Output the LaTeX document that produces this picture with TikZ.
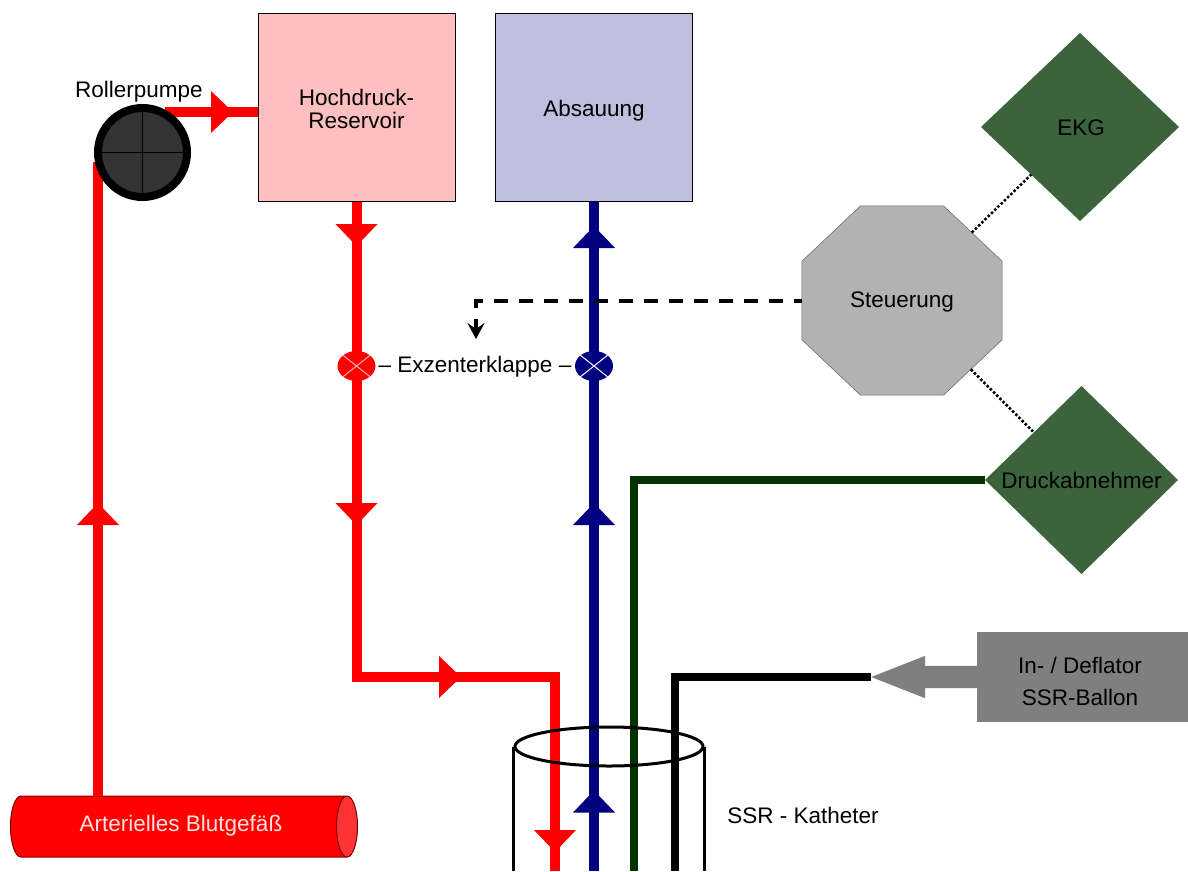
\documentclass[tikz,border=0pt]{standalone}
\usepackage{fontspec}
\setmainfont{Liberation Sans}
\usetikzlibrary{positioning,arrows.meta,calc,shapes.geometric,shapes.arrows}
\definecolor{resfill}{HTML}{FFBFBF}
\definecolor{absfill}{HTML}{BFBFDF}
\definecolor{dkblue}{HTML}{000080}
\definecolor{dkgreen}{HTML}{003300}
\definecolor{leaf}{HTML}{3C643C}
\definecolor{octfill}{HTML}{B2B2B2}
\definecolor{defl}{HTML}{7F7F7F}
\begin{document}
\begin{tikzpicture}[x=1pt,y=-1pt,
  lab/.style={font=\fontsize{22.5}{23}\selectfont,align=center,inner sep=0pt},
  tank/.style={draw=black,line width=1pt,minimum width=197pt,minimum height=188pt},
  pipe/.style={line width=10pt},
  sensor/.style={diamond,aspect=1,fill=leaf,outer sep=0pt,inner sep=0pt},
  klappe/.style={ellipse,inner sep=0pt,minimum width=38pt,minimum height=30pt}]
\useasboundingbox (0,0) rectangle (1188,871);
\fill[white] (0,0) rectangle (1188,871);
% end points at the lower edge
\coordinate (redbend) at (555,677);
\coordinate (redend) at (555,871);
\coordinate (blueend) at (594,871);
\coordinate (greenend) at (634,871);
\coordinate (blackend) at (675,871);
\coordinate (kathend) at (609,871);
\coordinate (pumpin) at (98,162);
\coordinate (pumpout) at (165,112);
\coordinate (dashend) at (476,339);
% blocks
\node[tank,fill=resfill] (reservoir) at (356.5,107) {};
\node[lab] (reservoirtext) at (356.5,109) {Hochdruck-\\Reservoir};
\node[tank,fill=absfill] (absauung) at (594,107) {};
\node[lab] (absauungtext) at (594,111) {Absauung};
\node[sensor,minimum width=198pt,minimum height=188pt] (ekg) at (1080,127) {};
\node[lab] (ekgtext) at (1081,128) {EKG};
\node[sensor,minimum width=193pt,minimum height=188pt] (druck) at (1081.5,480) {};
\node[lab] (drucktext) at (1081.5,480) {Druckabnehmer};
\node[regular polygon,regular polygon sides=8,minimum size=205pt,inner sep=0pt,outer sep=0pt,
  fill=octfill,draw=black!60,line width=.5pt,xscale=1.058,transform shape] (steuerung) at (902,300.5) {};
\node[lab] (steuertext) at (902,301.5) {Steuerung};
\node[fill=defl,minimum width=211pt,minimum height=90pt,inner sep=0pt] (inflator) at (1082.5,677) {};
\node[lab,font=\fontsize{22.5}{32}\selectfont] (inflatortext) at (1080,681) {In- / Deflator\\SSR-Ballon};
\node[single arrow,single arrow head extend=10pt,single arrow head indent=0pt,single arrow tip angle=43,
  shape border rotate=180,fill=defl,inner sep=0pt,minimum height=106pt,outer sep=0pt] (deflarrow) at (938.5,677) {\rule{0pt}{22pt}};
\node[cylinder,aspect=.344,minimum width=61pt,minimum height=347pt,draw=red!50!black,line width=1pt,
  cylinder uses custom fill,cylinder body fill=red,cylinder end fill=red!80!white,inner sep=0pt] (gefaess) at (178.5,826.5) {\rule{0pt}{61pt}};
\node[lab,text=red!12!white] (gefaesstext) at (181,826) {Arterielles Blutgefäß};
% tubes
\draw[pipe,red] (pumpin |- gefaess.before top) -- (pumpin);
\draw[pipe,red] (pumpout) -- (pumpout -| reservoir.west);
\draw[pipe,red] (reservoir.south) |- (redbend) -- (redend);
\draw[pipe,dkblue] (absauung.south) -- (blueend);
\draw[line width=8pt,dkgreen] (druck.west) -| (greenend);
\draw[line width=8pt,black] (deflarrow.tip) -| (blackend);
% flow direction
\foreach \x/\y/\col/\rot in {222/112/red/-90, 356.5/235/red/180, 356.5/514/red/180, 450/677/red/-90,
  98/514/red/0, 555/841/red/180, 594/237/dkblue/0, 594/514/dkblue/0, 594/801.5/dkblue/0}{
  \fill[\col,shift={(\x,\y)},rotate=\rot] (-21,11)--(21,11)--(0,-11)--cycle;
}
% pump
\node[circle,draw=black,line width=8pt,fill=black!80,minimum size=89pt,inner sep=0pt] (pumpe) at (142.5,152.5) {};
\draw[line width=1pt] (pumpe.north)--(pumpe.south) (pumpe.west)--(pumpe.east);
\node[lab] (pumpelabel) at (139,92) {Rollerpumpe};
% valves
\node[klappe,fill=red] (klapper) at (356.5,366) {};
\node[klappe,fill=dkblue] (klappeb) at (594,366) {};
\foreach \v/\c in {klapper/red!30!white,klappeb/white}{
  \draw[\c,line width=1pt] (\v.north east)--(\v.south west) (\v.north west)--(\v.south east);
}
\node[lab] (klappelabel) at (475,367) {– Exzenterklappe –};
% control lines
\draw[line width=4pt,dash pattern=on 14pt off 11pt,dash phase=6pt,-{Stealth[length=16pt,width=17pt,inset=6pt]}] (steuerung.west) -| (dashend);
\draw[line width=2.5pt,dotted] (steuerung) -- (ekg);
\draw[line width=2.5pt,dotted] (steuerung) -- (druck);
% catheter
\node[ellipse,draw=black,line width=3pt,minimum width=188pt,minimum height=39pt,inner sep=0pt] (katheter) at (609,746.5) {};
\draw[line width=3pt] (katheter.west) -- (katheter.west |- kathend);
\draw[line width=3pt] (katheter.east) -- (katheter.east |- kathend);
\node[lab] (katheterlabel) at (803,815) {SSR - Katheter};
\end{tikzpicture}
\end{document}
